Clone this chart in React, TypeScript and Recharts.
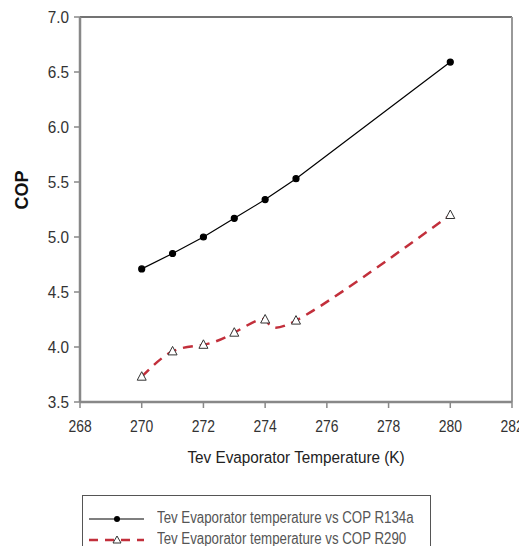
import {
  LineChart,
  Line,
  XAxis,
  YAxis,
  ReferenceLine,
} from "recharts";

const temps = [270, 271, 272, 273, 274, 275, 280];
const copR134a = [4.71, 4.85, 5.0, 5.17, 5.34, 5.53, 6.59];
const copR290 = [3.73, 3.96, 4.02, 4.13, 4.25, 4.24, 5.2];
const xTicks = [268, 270, 272, 274, 276, 278, 280, 282];
const yTicks = [3.5, 4.0, 4.5, 5.0, 5.5, 6.0, 6.5, 7.0];
const seriesNames = [
  "Tev Evaporator temperature vs COP R134a",
  "Tev Evaporator temperature vs COP R290",
];

const data = temps.map((t, i) => ({
  temp: t,
  r134a: copR134a[i],
  r290: copR290[i],
}));

const FONT = "'Liberation Sans', Arial, sans-serif";
const RED = "#c22f3b";

// narrow-looking tick labels, the original uses a condensed face
const XTick = (props: any) => {
  const { x, y, payload } = props;
  return (
    <text
      transform={`translate(${x},${y + 22}) scale(0.82,1)`}
      textAnchor="middle"
      fill="#333"
      fontSize={17}
      fontFamily={FONT}
    >
      {payload.value}
    </text>
  );
};

const YTick = (props: any) => {
  const { x, y, payload } = props;
  return (
    <text
      transform={`translate(${x - 3},${y + 6}) scale(0.9,1)`}
      textAnchor="end"
      fill="#333"
      fontSize={17}
      fontFamily={FONT}
    >
      {Number(payload.value).toFixed(1)}
    </text>
  );
};

const XLabel = (props: any) => {
  const { viewBox } = props;
  const cx = viewBox.x + viewBox.width / 2;
  return (
    <text
      transform={`translate(${cx},${viewBox.y + 61}) scale(0.9,1)`}
      textAnchor="middle"
      fill="#222"
      fontSize={17}
      fontFamily={FONT}
    >
      Tev Evaporator Temperature (K)
    </text>
  );
};

const Triangle = (props: any) => {
  const { cx, cy } = props;
  if (cx == null || cy == null) return null;
  return (
    <polygon
      points={`${cx},${cy - 5} ${cx - 4.5},${cy + 3.5} ${cx + 4.5},${cy + 3.5}`}
      fill="#fff"
      stroke="#333"
      strokeWidth={1}
    />
  );
};

const LegendBox = () => (
  <div
    style={{
      position: "absolute",
      left: 82,
      top: 495,
      width: 349,
      height: 59,
      borderTop: "1.5px solid #555",
      borderLeft: "1.5px solid #555",
      borderRight: "1.5px solid #555",
      boxSizing: "border-box",
      fontFamily: FONT,
      fontSize: 16,
      color: "#555",
      overflow: "hidden",
    }}
  >
    <svg width={70} height={50} style={{ position: "absolute", left: 0, top: 6 }}>
      <line x1={6} y1={17} x2={61} y2={17} stroke="#000" strokeWidth={1.2} />
      <circle cx={34} cy={17} r={3} fill="#000" />
      <line x1={6} y1={38} x2={61} y2={38} stroke={RED} strokeWidth={2.5} strokeDasharray="9 7" />
      <polygon points="34,34 30,41 38,41" fill="#fff" stroke="#333" strokeWidth={1} />
    </svg>
    <div
      style={{
        position: "absolute",
        left: 74,
        top: 11,
        lineHeight: "21px",
        transform: "scaleX(0.83)",
        transformOrigin: "left",
        whiteSpace: "nowrap",
      }}
    >
      <div>{seriesNames[0]}</div>
      <div>{seriesNames[1]}</div>
    </div>
  </div>
);

export default function App() {
  return (
    <div
      style={{
        position: "relative",
        margin: "-8px 0 0 -8px",
        width: 527,
        height: 546,
      }}
    >
      <LineChart
        width={527}
        height={546}
        data={data}
        margin={{ top: 17, right: 15, left: 30, bottom: 84 }}
        style={{ overflow: "visible" }}
      >
        <XAxis
          dataKey="temp"
          type="number"
          domain={[268, 282]}
          ticks={xTicks}
          height={60}
          stroke="#888"
          strokeWidth={2.5}
          tickSize={6}
          tick={<XTick />}
          tickLine={{ stroke: "#888", strokeWidth: 1.5 }}
          label={<XLabel />}
        />
        <YAxis
          type="number"
          domain={[3.5, 7.0]}
          ticks={yTicks}
          width={50}
          stroke="#888"
          strokeWidth={2.5}
          tickSize={6}
          tick={<YTick />}
          tickLine={{ stroke: "#888", strokeWidth: 1.5 }}
          label={{
            value: "COP",
            angle: -90,
            position: "insideLeft",
            offset: -8,
            fill: "#111",
            fontSize: 18,
            fontWeight: "bold",
            fontFamily: FONT,
          }}
        />
        <ReferenceLine y={7} stroke="#444" strokeWidth={1.5} />
        <ReferenceLine x={282} stroke="#999" strokeWidth={2} />
        <Line
          dataKey="r134a"
          type="linear"
          stroke="#000"
          strokeWidth={1.2}
          dot={{ r: 3, fill: "#000", stroke: "#000" }}
          isAnimationActive={false}
        />
        <Line
          dataKey="r290"
          type="natural"
          stroke={RED}
          strokeWidth={2.5}
          strokeDasharray="10 7"
          dot={<Triangle />}
          isAnimationActive={false}
        />
      </LineChart>
      <LegendBox />
    </div>
  );
}
